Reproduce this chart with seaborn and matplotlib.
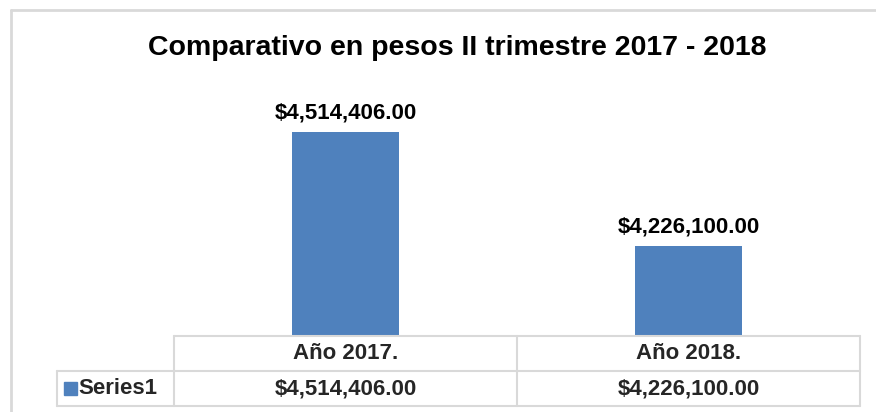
import numpy as np
import pandas as pd
import seaborn as sns
import matplotlib.pyplot as plt
from matplotlib.lines import Line2D
from matplotlib.patches import Rectangle

# data
categorias = ["Año 2017.", "Año 2018."]
valores = [4514406.00, 4226100.00]
serie = "Series1"
titulo = "Comparativo en pesos II trimestre 2017 - 2018"

df = pd.DataFrame({"anio": categorias, "pesos": valores})

W, H = 876, 412
sns.set_style("white")
plt.rcParams['font.family'] = ['Liberation Sans', 'DejaVu Sans']

fig = plt.figure(figsize=(W / 100, H / 100), dpi=100)

def fx(px):
    return px / W

def fy(py):
    return 1 - py / H

# plot area (pixels)
left, right, top, bottom = 174, 860, 98, 336
ax = fig.add_axes([fx(left), fy(bottom), fx(right - left), (bottom - top) / H])

azul = "#4F81BD"
sns.barplot(data=df, x="anio", y="pesos", color=azul, width=0.31,
            saturation=1, linewidth=0, ax=ax)
ax.set_ylim(4000000, 4600000)
ax.set_xlim(-0.5, len(categorias) - 0.5)
ax.set_xlabel("")
ax.set_ylabel("")
ax.set_xticks([])
ax.set_yticks([])
for s in ax.spines.values():
    s.set_visible(False)

etiquetas = ["${:,.2f}".format(v) for v in valores]
ax.bar_label(ax.containers[0], labels=etiquetas, padding=6,
             fontsize=16, fontweight="bold", color="#000000")

# title
fig.text(fx(457), fy(48), titulo, ha="center", va="center",
         fontsize=20.5, fontweight="bold", color="#000000")

# chart border (top and left visible)
gris = "#d9d9d9"
fig.add_artist(Line2D([fx(11), fx(W)], [fy(10), fy(10)], color=gris, lw=2))
fig.add_artist(Line2D([fx(11), fx(11)], [fy(10), fy(H)], color=gris, lw=2))

# data table
row1, row2, row3 = 336, 371, 406
lab_left = 57
col_edges = [left, (left + right) / 2, right]
tl = 1.5
fig.add_artist(Line2D([fx(left), fx(right)], [fy(row1), fy(row1)], color=gris, lw=tl))
for yy in (row2, row3):
    fig.add_artist(Line2D([fx(lab_left), fx(right)], [fy(yy), fy(yy)], color=gris, lw=tl))
fig.add_artist(Line2D([fx(lab_left), fx(lab_left)], [fy(row2), fy(row3)], color=gris, lw=tl))
for xx in col_edges:
    fig.add_artist(Line2D([fx(xx), fx(xx)], [fy(row1), fy(row3)], color=gris, lw=tl))

for i, (cat, txt) in enumerate(zip(categorias, etiquetas)):
    cx = (col_edges[0] + (i + 0.5) * (col_edges[2] - col_edges[0]) / len(categorias))
    fig.text(fx(cx), fy((row1 + row2) / 2), cat, ha="center", va="center",
             fontsize=16, fontweight="bold")
    fig.text(fx(cx), fy((row2 + row3) / 2), txt, ha="center", va="center",
             fontsize=16, fontweight="bold")

fig.add_artist(Rectangle((fx(64), fy(395)), fx(13), 13 / H, color=azul))
fig.text(fx(78), fy((row2 + row3) / 2), serie, ha="left", va="center",
         fontsize=16, fontweight="bold")

fig.savefig("out.png", dpi=100)
